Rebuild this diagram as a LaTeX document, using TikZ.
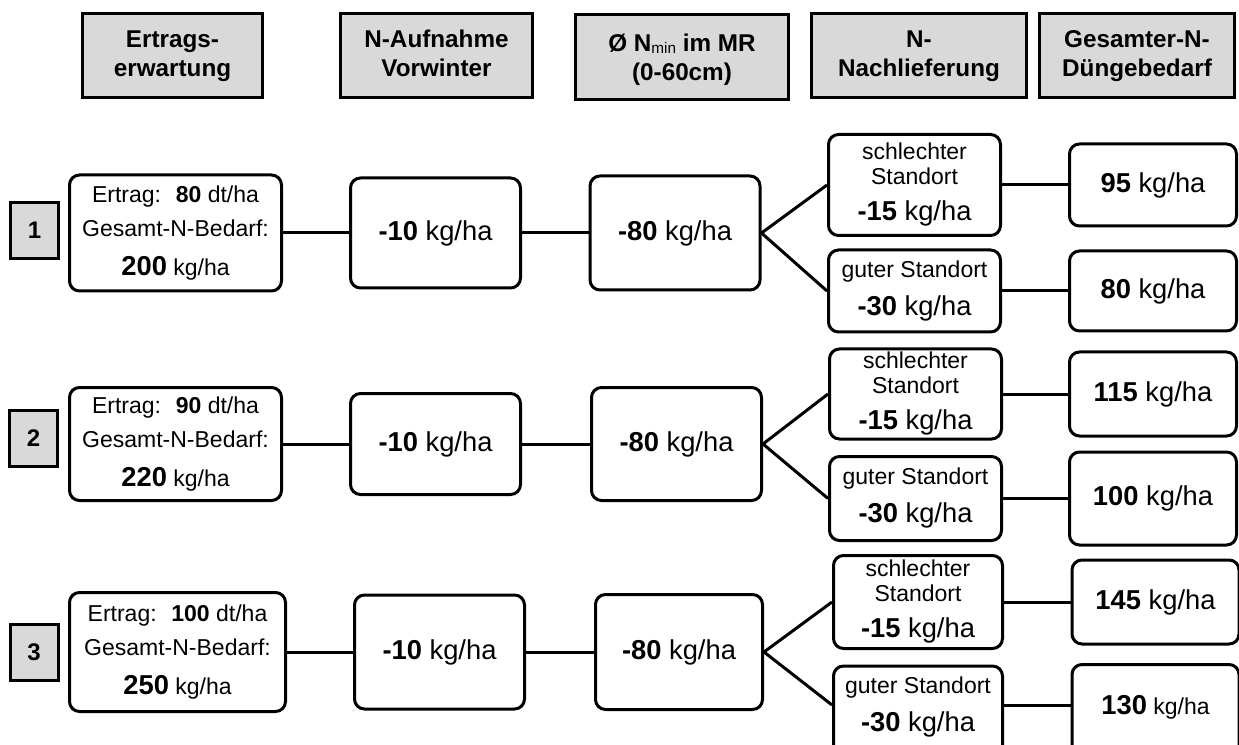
\documentclass[tikz,border=0pt]{standalone}
\usepackage{fontspec}
\setmainfont{Liberation Sans}
\definecolor{hdrgray}{HTML}{D9D9D9}
\newcommand\txs{\fontsize{17.25}{25.5}\selectfont}
\newcommand\txb{\fontsize{20.5}{24}\selectfont}
\newcommand\txt{\fontsize{17.25}{18.75}\selectfont}
\begin{document}
\begin{tikzpicture}[x=0.75pt,y=-0.75pt,
  hdr/.style 2 args={draw, line width=2.25pt, fill=hdrgray,
    minimum width={(#1-3)*0.75pt}, minimum height={(#2-3)*0.75pt},
    inner sep=0pt, align=center,
    font=\fontsize{18.2}{21.75}\selectfont\bfseries, text depth=3.5pt},
  rbox/.style 2 args={draw, line width=2.25pt, rounded corners=7.5pt, fill=white,
    minimum width={(#1-3)*0.75pt}, minimum height={(#2-3)*0.75pt},
    inner sep=0pt, align=center},
  numbox/.style={draw, line width=2.25pt, fill=hdrgray,
    minimum width={(51-3)*0.75pt}, minimum height={(59-3)*0.75pt},
    inner sep=0pt, font=\fontsize{18}{20}\selectfont\bfseries},
  ebox/.style={rbox={#1}{119}, font=\txs},
  vbox/.style={rbox={173}{#1}, font=\txb},
  sbox/.style={rbox={175}{#1}, font=\txt},
  resbox/.style={rbox={170}{#1}, font=\txb},
  link/.style={line width=2.25pt}
]
\useasboundingbox (0,0) rectangle (1239,745);

% headers
\node[hdr={183}{87}] (h1) at (172.5,55.5) {Ertrags-\\erwartung};
\node[hdr={195}{87}] (h2) at (436.5,55.5) {N-Aufnahme\\Vorwinter};
\node[hdr={216}{88}, text depth=0pt] (h3) at (682,57) {Ø N{\mdseries\fontsize{11.5}{12}\selectfont\raisebox{-1.5pt}{min}} im MR\\(0-60cm)};
\node[hdr={218}{87}] (h4) at (919,55.5) {N-\\Nachlieferung};
\node[hdr={198}{87}] (h5) at (1137,55.5) {Gesamter-N-\\Düngebedarf};

% row 1
\node[numbox] (n1) at (34.5,230.5) {1};
\node[ebox={215}] (e1) at (175.5,233) {Ertrag:\hspace{11pt}\textbf{80} dt/ha\\Gesamt-N-Bedarf:\\[3.75pt]{\txb\textbf{200}} kg/ha};
\node[vbox={113}] (a1) at (435.5,233) {\textbf{-10} kg/ha};
\node[vbox={117}] (m1) at (675,233) {\textbf{-80} kg/ha};
\node[sbox={104}] (s1) at (914.5,185) {schlechter\\Standort\\[8.25pt]{\txb\textbf{-15} kg/ha}};
\node[sbox={85}] (g1) at (914.5,291) {guter Standort\\[9.75pt]{\txb\textbf{-30} kg/ha}};
\node[resbox={85}] (r1a) at (1153,185) {\textbf{95} kg/ha};
\node[resbox={83}] (r1b) at (1153,291) {\textbf{80} kg/ha};

% row 2
\node[numbox] (n2) at (33.5,438) {2};
\node[ebox={215}, minimum height={(116-3)*0.75pt}] (e2) at (175.5,444) {Ertrag:\hspace{11pt}\textbf{90} dt/ha\\Gesamt-N-Bedarf:\\[3.75pt]{\txb\textbf{220}} kg/ha};
\node[vbox={104}] (a2) at (435.5,444) {\textbf{-10} kg/ha};
\node[vbox={116}] (m2) at (676.5,444) {\textbf{-80} kg/ha};
\node[sbox={93}] (s2) at (915.5,394) {schlechter\\Standort\\[8.25pt]{\txb\textbf{-15} kg/ha}};
\node[sbox={87}] (g2) at (915.5,498.5) {guter Standort\\[9.75pt]{\txb\textbf{-30} kg/ha}};
\node[resbox={87}] (r2a) at (1153,394) {\textbf{115} kg/ha};
\node[resbox={96}] (r2b) at (1153,498.5) {\textbf{100} kg/ha};

% row 3
\node[numbox] (n3) at (34,652.5) {3};
\node[ebox={219}, minimum height={(122-3)*0.75pt}] (e3) at (177.5,652) {Ertrag:\hspace{11pt}\textbf{100} dt/ha\\Gesamt-N-Bedarf:\\[3.75pt]{\txb\textbf{250}} kg/ha};
\node[vbox={117}] (a3) at (439.5,652) {\textbf{-10} kg/ha};
\node[vbox={118}, minimum width={(170-3)*0.75pt}] (m3) at (679,652) {\textbf{-80} kg/ha};
\node[sbox={96}, minimum width={(172-3)*0.75pt}] (s3) at (918,602) {schlechter\\Standort\\[8.25pt]{\txb\textbf{-15} kg/ha}};
\node[sbox={93}, minimum width={(172-3)*0.75pt}, text depth=10.3pt] (g3) at (918,711) {guter Standort\\[9.75pt]{\txb\textbf{-30} kg/ha}};
\node[resbox={87}] (r3a) at (1155.5,602) {\textbf{145} kg/ha};
\node[resbox={96}, text depth=9.6pt] (r3b) at (1155.5,711) {\textbf{130}{\txs\ kg/ha}};

% connectors
\foreach \r in {1,2,3}{
  \draw[link] (e\r) -- (a\r);
  \draw[link] (a\r) -- (m\r);
  \draw[link] (m\r.east) -- (s\r.west);
  \draw[link] (s\r) -- (r\r a);
}
\draw[link] (m1.east) -- (g1.west);
\draw[link] (m2.east) -- (g2.west);
\draw[link] (g1) -- (r1b);
\draw[link] (g2) -- (r2b);
\coordinate (g3in) at (g3.west |- 0,705);
\coordinate (g3out) at (g3.east |- 0,705);
\coordinate (r3in) at (r3b.west |- 0,705);
\draw[link] (m3.east) -- (g3in);
\draw[link] (g3out) -- (r3in);
\end{tikzpicture}
\end{document}
